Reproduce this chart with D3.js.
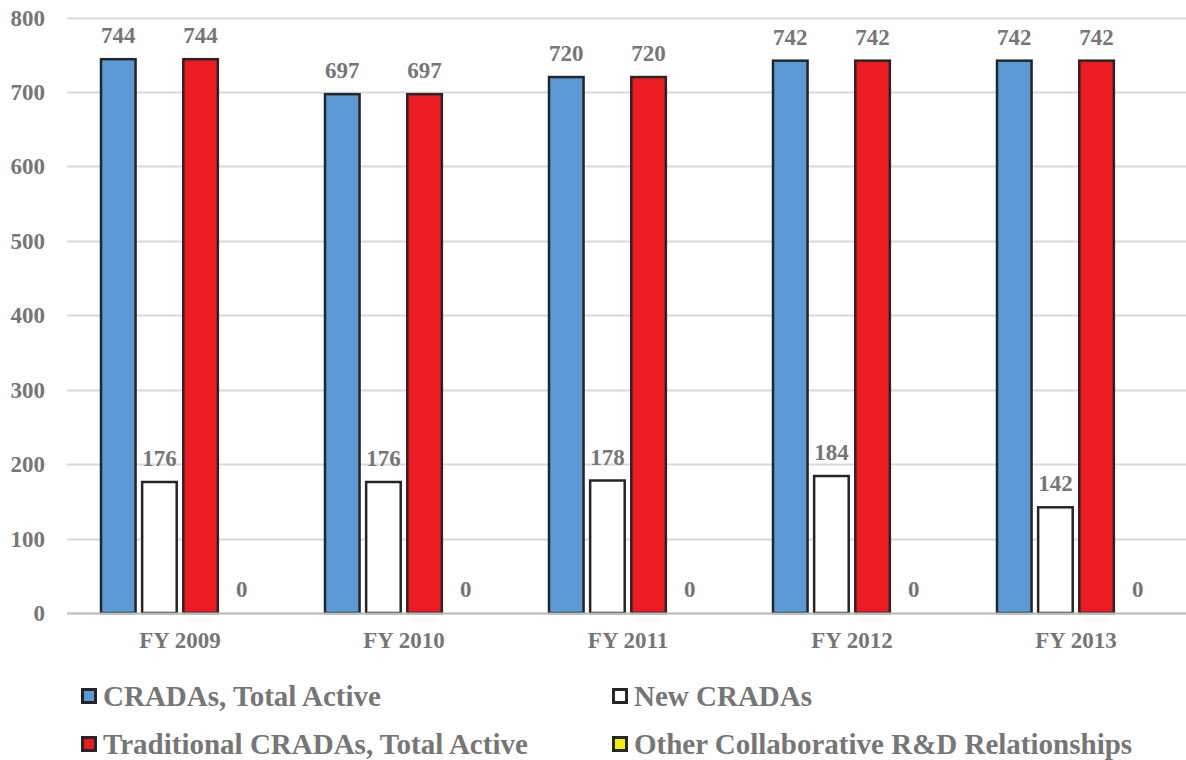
<!DOCTYPE html>
<html>
<head>
<meta charset="utf-8">
<script src="https://cdn.jsdelivr.net/npm/d3@7"></script>
<style>
  body { margin: 0; background: #fff; }
  text { font-family: "Liberation Serif", "Times New Roman", serif; font-weight: bold; fill: #767676; }
</style>
</head>
<body>
<svg class="chart" width="1186" height="760"></svg>
<script>
// Chart data
var years = ["FY 2009", "FY 2010", "FY 2011", "FY 2012", "FY 2013"];
var seriesNames = ["CRADAs, Total Active", "New CRADAs", "Traditional CRADAs, Total Active", "Other Collaborative R&D Relationships"];
var totalActive = [744, 697, 720, 742, 742];
var newCradas = [176, 176, 178, 184, 142];
var traditionalActive = [744, 697, 720, 742, 742];
var otherRelationships = [0, 0, 0, 0, 0];
var yTicks = [0, 100, 200, 300, 400, 500, 600, 700, 800];

const width = 1186;
const height = 760;

var colors = ["#5b9bd5", "#ffffff", "#ed1c24", "#f5ec0a"];
var allSeries = [totalActive, newCradas, traditionalActive, otherRelationships];

var chart = d3.select(".chart");

var xScale = d3.scaleBand()
    .domain(years)
    .range([68, 1188])
    .padding(0);

// bars inside each year group
var innerScale = d3.scaleBand()
    .domain(d3.range(seriesNames.length))
    .range([33, 191])
    .paddingInner(0.16)
    .paddingOuter(0);

var yScale = d3.scaleLinear()
    .domain([0, 800])
    .range([613, 17.5]);

/**** Gridlines ****/
chart.append("g")
    .selectAll("line")
    .data(yTicks)
    .enter()
    .append("line")
    .attr("x1", 67)
    .attr("x2", width)
    .attr("y1", function(d) { return Math.round(yScale(d)) + 0.5; })
    .attr("y2", function(d) { return Math.round(yScale(d)) + 0.5; })
    .style("stroke", "#d9d9d9")
    .style("stroke-width", 2);

/**** Y axis labels ****/
var yAxis = d3.axisLeft(yScale)
    .tickValues(yTicks)
    .tickSize(0)
    .tickPadding(0);

chart.append("g")
    .attr("class", "yAxis")
    .attr("transform", "translate(45,0)")
    .call(yAxis)
    .call(function(g) { g.select(".domain").remove(); })
    .selectAll("text")
    .style("font-size", "23px")
    .attr("dy", "0.33em");

/**** X axis labels ****/
var xAxis = d3.axisBottom(xScale).tickSize(0).tickPadding(0);

chart.append("g")
    .attr("class", "xAxis")
    .attr("transform", "translate(0,632)")
    .call(xAxis)
    .call(function(g) { g.select(".domain").remove(); })
    .selectAll("text")
    .style("font-size", "23px")
    .attr("dy", "0.68em");

/**** Bars ****/
var rows = [];
years.forEach(function(y, i) {
    allSeries.forEach(function(s, j) {
        rows.push({ year: y, series: j, value: s[i] });
    });
});

chart.append("g")
    .selectAll(".bar")
    .data(rows.filter(function(d) { return d.value > 0; }))
    .enter()
    .append("rect")
    .attr("class", "bar")
    .attr("x", function(d) { return xScale(d.year) + innerScale(d.series); })
    .attr("y", function(d) { return yScale(d.value); })
    .attr("width", innerScale.bandwidth())
    .attr("height", function(d) { return yScale(0) - yScale(d.value); })
    .style("fill", function(d) { return colors[d.series]; })
    .style("stroke", "#262626")
    .style("stroke-width", 2.5);

// zero line sits over the bar bottoms
chart.append("line")
    .attr("x1", 67)
    .attr("x2", width)
    .attr("y1", Math.round(yScale(0)) + 0.5)
    .attr("y2", Math.round(yScale(0)) + 0.5)
    .style("stroke", "#bdbdbd")
    .style("stroke-width", 2);

// value labels
chart.append("g")
    .selectAll(".label")
    .data(rows)
    .enter()
    .append("text")
    .attr("class", "label")
    .attr("x", function(d) { return xScale(d.year) + innerScale(d.series) + innerScale.bandwidth() / 2; })
    .attr("y", function(d) { return yScale(d.value) - 16; })
    .attr("text-anchor", "middle")
    .style("font-size", "23px")
    .text(function(d) { return d.value; });

/**** Legend ****/
var legendPos = [[81, 696], [612, 696], [81, 744], [612, 744]];
var legendOrder = [0, 1, 2, 3];

var legend = chart.append("g")
    .selectAll(".legend")
    .data(legendOrder)
    .enter()
    .append("g")
    .attr("class", "legend")
    .attr("transform", function(d, i) { return "translate(" + legendPos[i][0] + "," + legendPos[i][1] + ")"; });

legend.append("rect")
    .attr("x", 1.5)
    .attr("y", -6.5)
    .attr("width", 13)
    .attr("height", 13)
    .style("fill", function(d) { return colors[d]; })
    .style("stroke", "#262626")
    .style("stroke-width", 3);

legend.append("text")
    .attr("x", 22)
    .attr("dy", "0.33em")
    .style("font-size", "29px")
    .text(function(d) { return seriesNames[d]; });
</script>
</body>
</html>
